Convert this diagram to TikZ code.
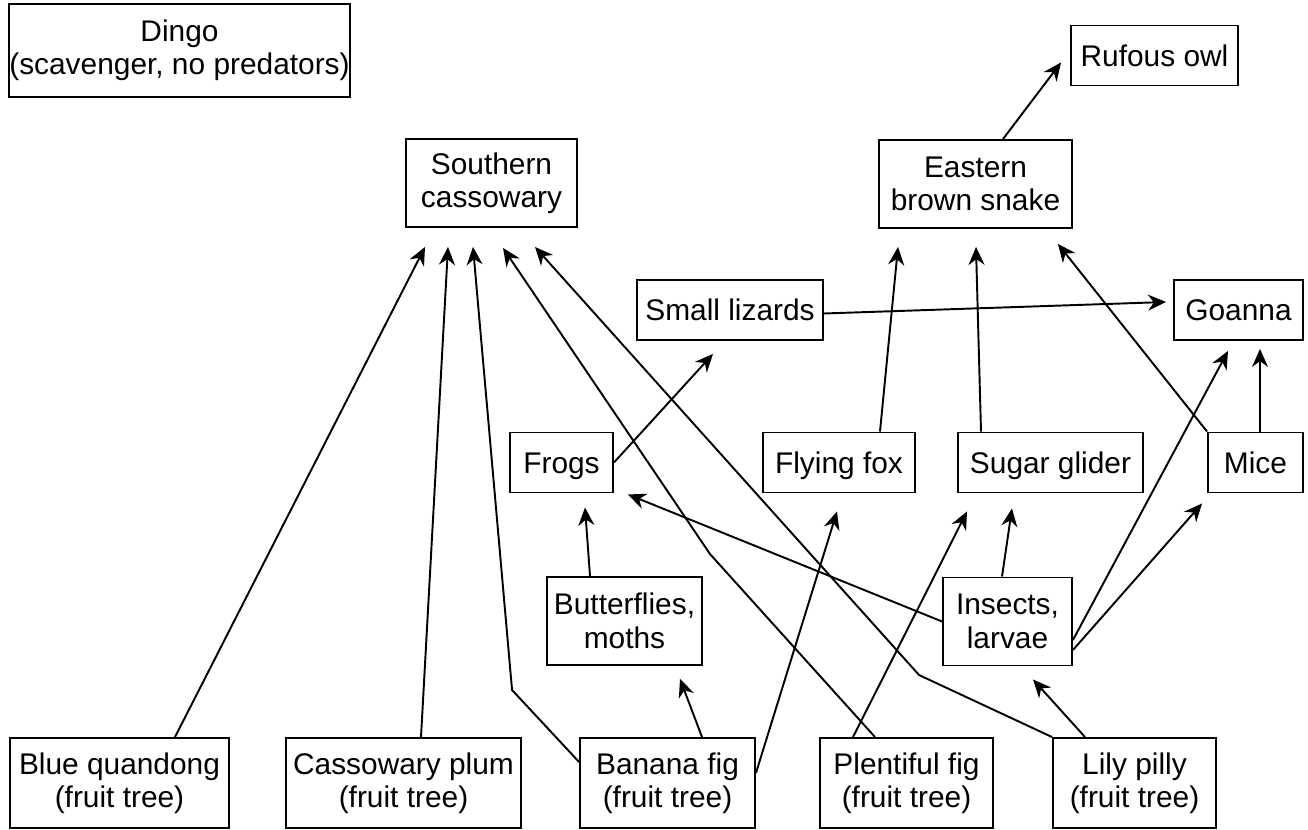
\documentclass[tikz,border=0pt]{standalone}
\usepackage{fontspec}
\setmainfont{Liberation Sans}
\usetikzlibrary{arrows.meta,calc}
\tikzset{
  box/.style={draw, line width=1.1pt, align=center, inner sep=0pt, minimum height=1.76cm, font=\fontsize{17}{19}\selectfont},
  flat/.style={box, minimum height=1.2cm, text height=14pt, text depth=2pt},
  tree/.style={box, minimum height=1.8cm},
  arr/.style={-{Stealth[length=3.6mm, width=3.2mm]}, line width=1.1pt},
}
\begin{document}
\begin{tikzpicture}[x=0.02cm, y=-0.02cm]
  \useasboundingbox (0,0) rectangle (1308,830);
  % top
  \node[box, minimum width=6.82cm, minimum height=1.86cm] (dingo) at (179.5,50.5) {Dingo\\(scavenger, no predators)};
  \node[flat, minimum width=3.34cm] (owl) at (1154.5,55.5) {Rufous owl};
  \node[box, minimum width=3.42cm] (cass) at (491.5,183) {Southern\\cassowary};
  \node[box, minimum width=3.86cm] (snake) at (975.5,184) {Eastern\\brown snake};
  \node[flat, minimum width=3.72cm] (lizards) at (730,310) {Small lizards};
  \node[flat, minimum width=2.58cm] (goanna) at (1238.5,310) {Goanna};
  % middle
  \node[flat, minimum width=2.06cm] (frogs) at (561.5,462.5) {Frogs};
  \node[flat, minimum width=3.04cm] (ffox) at (839,462.5) {Flying fox};
  \node[flat, minimum width=3.7cm] (glider) at (1050.5,462.5) {Sugar glider};
  \node[flat, minimum width=1.9cm] (mice) at (1255.5,462.5) {Mice};
  \node[box, minimum width=3.1cm] (moths) at (624.5,621) {Butterflies,\\moths};
  \node[box, minimum width=2.58cm] (insects) at (1007.5,621.5) {Insects,\\larvae};
  % fruit trees
  \node[tree, minimum width=4.38cm] (quandong) at (119.5,783) {Blue quandong\\(fruit tree)};
  \node[tree, minimum width=4.7cm] (plum) at (403.5,783) {Cassowary plum\\(fruit tree)};
  \node[tree, minimum width=3.5cm] (bfig) at (667.5,783) {Banana fig\\(fruit tree)};
  \node[tree, minimum width=3.46cm] (pfig) at (906.5,783) {Plentiful fig\\(fruit tree)};
  \node[tree, minimum width=3.26cm] (lily) at (1134.5,783) {Lily pilly\\(fruit tree)};

  % into the cassowary
  \draw[arr] ($(quandong.north)+(55.5,0)$) -- ($(cass.south)+(-66.5,19)$);
  \draw[arr] ($(plum.north)+(17.5,0)$) -- ($(cass.south)+(-43.5,19)$);
  \draw[arr] ($(bfig.west)+(0,-21)$) -- ++(-67,-72) -- ($(cass.south)+(-18.5,19)$);
  \draw[arr] ($(pfig.north)+(-31.5,0)$) -- ++(-165,-183) -- ($(cass.south)+(11.5,20)$);
  \draw[arr] (lily.north west) -- ++(-133,-62) -- ($(cass.south)+(43.5,19)$);

  % fruit trees to the rest
  \draw[arr] ($(bfig.east)+(0,-10)$) -- ($(ffox.south)+(-2,18)$);
  \draw[arr] ($(bfig.north)+(34.5,0)$) -- ($(moths.south)+(55.5,13)$);
  \draw[arr] ($(pfig.north)+(-53.5,0)$) -- ($(glider.south)+(-83.5,18)$);
  \draw[arr] ($(lily.north)+(-49.5,0)$) -- ($(insects.south)+(25.5,13)$);

  % insects and moths
  \draw[arr] ($(moths.north)+(-34.5,0)$) -- ($(frogs.south)+(23.5,14)$);
  \draw[arr] (insects.west) -- ($(frogs.south east)+(14,1)$);
  \draw[arr] ($(insects.north)+(-5.5,0)$) -- ($(glider.south)+(-38.5,15)$);
  \draw[arr] ($(insects.east)+(0,18.5)$) -- ($(goanna.south)+(-10.5,10)$);
  \draw[arr] ($(insects.east)+(0,28.5)$) -- ($(mice.south west)+(-5,10)$);

  % upper levels
  \draw[arr] (frogs.east) -- ($(lizards.south)+(-17,13)$);
  \draw[arr] ($(lizards.east)+(0,3.5)$) -- ($(goanna.west)+(-7,-8)$);
  \draw[arr] ($(ffox.north)+(41,0)$) -- ($(snake.south)+(-77.5,18)$);
  \draw[arr] ($(glider.north)+(-69.5,0)$) -- ($(snake.south)+(0.5,18)$);
  \draw[arr] (mice.north west) -- ($(snake.south east)+(-15,15)$);
  \draw[arr] ($(mice.north)+(4.5,0)$) -- ($(goanna.south)+(21.5,8)$);
  \draw[arr] ($(snake.north)+(27.5,0)$) -- ($(owl.south west)+(-9,-24)$);
\end{tikzpicture}
\end{document}
